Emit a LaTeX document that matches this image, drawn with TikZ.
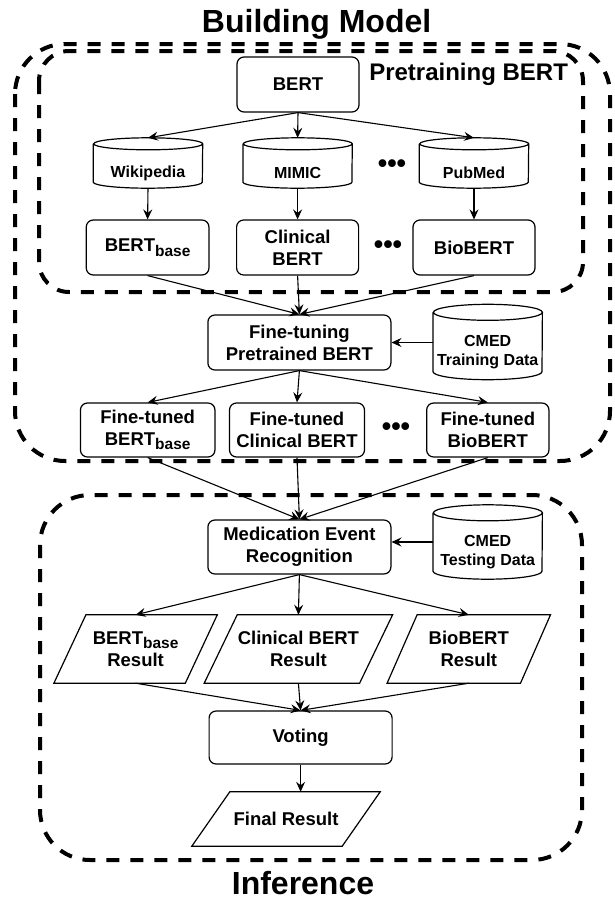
\documentclass[tikz,border=0pt]{standalone}
\usepackage{fontspec}
\setmainfont{Liberation Sans}
\usetikzlibrary{arrows.meta}
\newcommand\mybase{\raisebox{-4.5pt}{\fontsize{15.5}{16}\selectfont base}}
\tikzset{
  outline/.style={draw=black, line width=1.2pt},
  shapebox/.style={draw=none, inner sep=0pt, align=center, font=\bfseries\fontsize{18.5}{22.5}\selectfont},
  box/.style={outline, rounded corners=7pt, inner sep=0pt, align=center, font=\bfseries\fontsize{18.5}{22}\selectfont},
  cyltext/.style={inner sep=0pt, align=center, font=\bfseries\fontsize{16}{19}\selectfont},
  dbox/.style={draw=black, line width=4pt, dash pattern=on 13pt off 11pt},
  arr/.style={-{Stealth[length=10pt,width=9pt,inset=3.5pt]}, line width=1.1pt},
  title/.style={inner sep=0pt, font=\bfseries\fontsize{32}{36}\selectfont},
  subtitle/.style={inner sep=0pt, font=\bfseries\fontsize{24}{28}\selectfont},
  dots/.style={inner sep=0pt, font=\bfseries\fontsize{27}{27}\selectfont},
}
\newcommand\mkcyl[6]{%
  \node[shapebox, minimum width=#3, minimum height=#4] (#1) at #2 {};
  \draw[outline] ([yshift=-#5]#1.north west) -- ([yshift=#5]#1.south west)
    arc[start angle=180, end angle=360, x radius=#3/2, y radius=#5]
    -- ([yshift=-#5]#1.north east)
    arc[start angle=0, end angle=360, x radius=#3/2, y radius=#5];
  \node[cyltext] (#1-t) at ([yshift=-10pt]#1.center) {#6};
}
\newcommand\mkpara[6]{%
  \node[shapebox, minimum width=#3, minimum height=#4] (#1) at #2 {#6};
  \draw[outline] ([xshift=#5/2]#1.north west) -- ([xshift=#5/2]#1.north east)
    -- ([xshift=-#5/2]#1.south east) -- ([xshift=-#5/2]#1.south west) -- cycle;
}
\begin{document}
\begin{tikzpicture}[x=1pt, y=-1pt]
\useasboundingbox (0,0) rectangle (615,900);

% frames
\draw[dbox, rounded corners=30pt] (39,51) rectangle (583,292);
\draw[dbox, rounded corners=50pt] (15,44) rectangle (610,461);
\draw[dbox, rounded corners=50pt] (40,495) rectangle (582,860);

% titles
\node[title, anchor=base] (tbm) at (316.6,32) {Building Model};
\node[title, anchor=base] (tinf) at (303,894) {Inference};
\node[subtitle, anchor=base] (tpre) at (468.6,80) {Pretraining BERT};

% pretraining
\node[box, minimum width=122pt, minimum height=55pt] (bert) at (298,84.5) {BERT};
\mkcyl{wiki}{(148,163)}{109pt}{50pt}{6pt}{Wikipedia}
\mkcyl{mimic}{(297.6,163)}{109pt}{50pt}{6pt}{MIMIC}
\mkcyl{pubmed}{(474,163)}{109pt}{50pt}{6pt}{PubMed}
\node[dots] (d1) at (392,166) {•••};

\node[box, minimum width=122.7pt, minimum height=55pt] (bbase) at (147.6,247.5) {BERT\mybase};
\node[box, minimum width=122pt, minimum height=55pt] (clin) at (297.6,247.5) {Clinical\\BERT};
\node[box, minimum width=122pt, minimum height=55pt] (bio) at (474,247.5) {BioBERT};
\node[dots] (d2) at (388,247) {•••};

% fine-tuning
\node[box, minimum width=183pt, minimum height=55pt] (ftp) at (299.4,342.5) {Fine-tuning\\Pretrained BERT};
\mkcyl{cmedtr}{(487.7,342)}{109pt}{75pt}{8pt}{CMED\\Training Data}

\node[box, minimum width=134.5pt, minimum height=54pt] (ftb) at (147.7,430) {Fine-tuned\\BERT\mybase};
\node[box, minimum width=135pt, minimum height=54pt] (ftc) at (297,430) {Fine-tuned\\Clinical BERT};
\node[box, minimum width=122.3pt, minimum height=54pt] (ftbio) at (487.8,430) {Fine-tuned\\BioBERT};
\node[dots] (d3) at (396,429) {•••};

% inference
\node[box, minimum width=183pt, minimum height=54pt] (mer) at (299.4,547) {Medication Event\\Recognition};
\mkcyl{cmedte}{(487.7,542)}{109pt}{74pt}{8pt}{CMED\\Testing Data}

\mkpara{rbase}{(135.6,649)}{131pt}{68pt}{32pt}{BERT\mybase\\Result}
\mkpara{rclin}{(298.4,649)}{155pt}{68pt}{33pt}{Clinical BERT\\Result}
\mkpara{rbio}{(468.8,649)}{133pt}{68pt}{30pt}{BioBERT\\Result}

\node[box, minimum width=183pt, minimum height=53pt] (vote) at (300.6,737.5) {Voting};
\mkpara{final}{(286,819)}{150pt}{54pt}{38pt}{Final Result}

% connectors
\draw[arr] (bert.south) -- (wiki.north);
\draw[arr] (bert.south) -- (mimic.north);
\draw[arr] (bert.south) -- (pubmed.north);
\draw[arr] (wiki.south) -- (bbase.north);
\draw[arr] (mimic.south) -- (clin.north);
\draw[arr] (pubmed.south) -- (bio.north);

\draw[arr] (bbase.south) -- (ftp.north);
\draw[arr] (clin.south) -- (ftp.north);
\draw[arr] (bio.south) -- (ftp.north);
\draw[arr] (cmedtr.west |- ftp.east) -- (ftp.east);

\draw[arr] (ftp.south) -- (ftb.north);
\draw[arr] (ftp.south) -- (ftc.north);
\draw[arr] (ftp.south) -- (ftbio.north);

\draw[arr] (ftb.south) -- (mer.north);
\draw[arr] (ftc.south) -- (mer.north);
\draw[arr] (ftbio.south) -- (mer.north);
\draw[arr] (cmedte.west) -- (cmedte.west -| mer.east);

\draw[arr] (mer.south) -- (rbase.north);
\draw[arr] (mer.south) -- (rclin.north);
\draw[arr] (mer.south) -- (rbio.north);

\draw[arr] (rbase.south) -- (vote.north);
\draw[arr] (rclin.south) -- (vote.north);
\draw[arr] (rbio.south) -- (vote.north);

\draw[arr] (vote.south) -- (vote.south |- final.north);
\end{tikzpicture}
\end{document}
